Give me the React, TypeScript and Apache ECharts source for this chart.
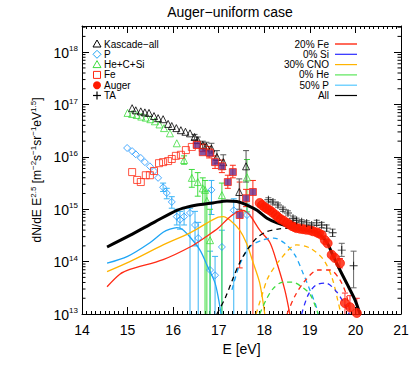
import React, { useEffect, useRef } from "react";
import * as echarts from "echarts";

const FONT = "'Liberation Sans', Arial, sans-serif";
const YMIN = 1e13;
const YMAX = 3.16e18;

// x = log10(E/eV), y = log10(flux)
const kasE = [15.1, 15.18, 15.29, 15.38, 15.47, 15.58, 15.67, 15.78, 15.89, 15.97, 16.07, 16.17, 16.27, 16.37, 16.47, 16.54, 16.65, 16.73, 16.84, 16.96, 17.1, 17.45, 17.6];
const kasF = [16.93, 16.89, 16.87, 16.85, 16.84, 16.78, 16.74, 16.72, 16.63, 16.59, 16.55, 16.51, 16.48, 16.45, 16.38, 16.32, 16.23, 16.2, 16.16, 16.0, 15.9, 15.33, 15.82];
const kasBars = [[16.47, 16.33, 16.43], [16.54, 16.26, 16.38], [16.65, 16.16, 16.3], [16.73, 16.12, 16.28], [16.84, 16.06, 16.26], [16.96, 15.88, 16.12], [17.1, 15.76, 16.04], [17.45, 15.0, 15.58], [17.6, 15.52, 16.12]];

const heE = [15.0, 15.1, 15.2, 15.3, 15.4, 15.5, 15.6, 15.7, 15.8, 15.93, 16.08, 16.24, 16.41, 16.54, 16.65, 16.7, 16.74, 16.81, 17.07, 17.62];
const heF = [16.84, 16.82, 16.8, 16.77, 16.75, 16.72, 16.68, 16.62, 16.55, 16.45, 16.26, 15.94, 15.6, 15.52, 15.4, 15.37, 15.16, 14.41, 15.27, 15.61];
const heBars = [[16.24, 15.86, 16.02], [16.41, 15.42, 15.76], [16.54, 15.25, 15.7], [16.65, 15.1, 15.6], [16.7, 13.0, 15.55], [16.74, 13.0, 15.35], [16.81, 13.0, 15.0], [17.07, 13.0, 15.5], [17.62, 14.95, 15.95]];

const pE = [14.99, 15.1, 15.18, 15.29, 15.38, 15.49, 15.58, 15.67, 15.78, 15.86, 15.97, 16.08, 16.15, 16.24, 16.37, 16.48, 16.55, 16.84, 16.81, 16.92, 17.07, 17.33, 17.62];
const pF = [16.17, 16.11, 16.05, 15.98, 15.9, 15.82, 15.73, 15.6, 15.42, 15.31, 15.14, 14.86, 14.8, 14.86, 14.93, 14.7, 14.45, 15.37, 13.84, 13.74, 14.28, 14.98, 14.89];
const pBars = [[15.78, 15.34, 15.5], [15.86, 15.2, 15.4], [15.97, 15.02, 15.24], [16.08, 14.7, 15.0], [16.15, 14.62, 14.96], [16.24, 14.7, 15.02], [16.37, 13.0, 15.02], [16.48, 14.3, 14.96], [16.55, 13.0, 14.75], [16.84, 14.9, 15.55], [16.81, 13.0, 14.2], [16.92, 13.0, 14.1], [17.07, 13.0, 14.6], [17.33, 13.0, 15.2], [17.62, 13.0, 15.1]];

const feE = [15.1, 15.21, 15.29, 15.4, 15.49, 15.58, 15.69, 15.78, 15.89, 15.97, 16.06, 16.17, 16.28, 16.41, 16.52, 16.65, 16.79];
const feF = [15.71, 15.56, 15.52, 15.65, 15.65, 15.73, 15.88, 15.9, 15.92, 15.96, 16.02, 16.04, 16.13, 16.19, 16.23, 16.17, 16.09];
const feBars = [[16.65, 16.1, 16.25], [16.79, 15.98, 16.2]];

const fe2E = [16.52, 16.65, 16.81, 16.92, 17.07, 17.2, 17.31, 17.46, 17.6, 17.75];
const fe2F = [16.23, 16.09, 16.07, 15.9, 15.82, 15.52, 15.71, 14.89, 15.21, 15.33];
const fe2Bars = [[16.92, 15.78, 16.02], [17.07, 15.7, 15.94], [17.2, 15.4, 15.65], [17.31, 15.6, 15.84], [17.46, 13.88, 15.52], [17.6, 15.05, 15.38], [17.75, 13.0, 15.55]];

const augerE = [17.9, 17.95, 18.01, 18.06, 18.12, 18.18, 18.25, 18.3, 18.36, 18.43, 18.5, 18.55, 18.61, 18.66, 18.71, 18.78, 18.85, 18.92, 19.0, 19.07, 19.15, 19.2, 19.26, 19.33, 19.39, 19.48, 19.55, 19.66, 19.77, 19.88, 20.03];
const augerF = [15.12, 15.08, 15.04, 15.01, 14.98, 14.94, 14.89, 14.85, 14.81, 14.78, 14.74, 14.71, 14.68, 14.66, 14.64, 14.63, 14.62, 14.61, 14.6, 14.58, 14.56, 14.54, 14.51, 14.41, 14.35, 14.13, 14.07, 13.97, 13.21, 13.13, 13.02];
const augerBars = [[19.66, 13.88, 14.06], [19.77, 13.0, 13.4], [19.88, 13.0, 13.35], [20.03, 13.0, 13.3]];

const taE = [18.09, 18.19, 18.3, 18.41, 18.52, 18.63, 18.71, 18.82, 18.93, 19.04, 19.15, 19.26, 19.37, 19.5, 19.7, 19.96];
const taF = [15.18, 15.14, 15.08, 15.0, 14.93, 14.83, 14.79, 14.76, 14.74, 14.7, 14.74, 14.7, 14.64, 14.55, 14.22, 13.92];
const taBars = [[18.09, 15.14, 15.22], [18.19, 15.1, 15.18], [18.3, 15.04, 15.12], [18.41, 14.96, 15.04], [18.52, 14.89, 14.97], [18.63, 14.79, 14.87], [18.71, 14.75, 14.83], [18.82, 14.72, 14.8], [18.93, 14.7, 14.78], [19.04, 14.66, 14.74], [19.15, 14.69, 14.79], [19.26, 14.65, 14.75], [19.37, 14.58, 14.7], [19.5, 14.48, 14.62], [19.7, 14.1, 14.35], [19.96, 13.5, 14.2]];

// model curves
const allE = [14.55, 15.05, 15.6, 16.08, 16.3, 16.52, 16.87, 17.18, 17.4, 17.62, 17.84, 18.06, 18.28, 18.5, 18.71, 18.93, 19.15, 19.37, 19.5, 19.66, 19.83, 19.99, 20.1];
const allF = [14.28, 14.5, 14.76, 14.98, 15.04, 15.08, 15.12, 15.16, 15.15, 15.08, 14.98, 14.83, 14.74, 14.68, 14.64, 14.6, 14.56, 14.37, 14.13, 13.84, 13.55, 13.27, 13.0];
const pLineE = [14.55, 15.0, 15.49, 15.78, 15.93, 16.08, 16.2, 16.37, 16.59, 16.76, 16.92, 17.0, 17.05];
const pLineF = [13.97, 14.1, 14.36, 14.56, 14.62, 14.65, 14.62, 14.47, 14.22, 13.9, 13.59, 13.27, 13.0];
const cnoLineE = [14.55, 15.05, 15.78, 16.37, 16.73, 16.99, 17.1, 17.25, 17.46, 17.61, 17.76, 17.9, 18.01];
const cnoLineF = [13.81, 14.0, 14.32, 14.55, 14.73, 14.85, 14.86, 14.79, 14.6, 14.35, 13.97, 13.59, 13.0];
const feLineE = [14.55, 14.83, 15.05, 15.78, 16.37, 16.73, 16.99, 17.2, 17.4, 17.53, 17.68, 17.9, 18.12, 18.28, 18.45, 18.56];
const feLineF = [13.52, 13.76, 13.85, 14.04, 14.28, 14.48, 14.64, 14.82, 14.95, 14.98, 14.89, 14.6, 14.37, 13.97, 13.46, 13.0];
const allDE = [16.96, 17.14, 17.3, 17.46, 17.62, 17.83, 18.05, 18.3, 18.55, 18.75];
const allDF = [13.0, 13.3, 13.65, 13.98, 14.22, 14.45, 14.57, 14.62, 14.64, 14.64];
const pDE = [17.29, 17.46, 17.68, 17.95, 18.21, 18.45, 18.67, 18.85, 19.0, 19.13, 19.18];
const pDF = [13.46, 13.94, 14.28, 14.41, 14.45, 14.35, 14.13, 13.78, 13.46, 13.17, 13.0];
const cnoDE = [17.82, 17.95, 18.08, 18.34, 18.71, 19.0, 19.29, 19.48, 19.61, 19.68];
const cnoDF = [13.0, 13.36, 13.69, 14.03, 14.32, 14.26, 14.05, 13.71, 13.27, 13.0];
const heDE = [17.9, 18.04, 18.19, 18.41, 18.61, 18.82, 19.0, 19.13, 19.18];
const heDF = [13.0, 13.27, 13.48, 13.61, 13.61, 13.52, 13.38, 13.13, 13.0];
const feDE = [18.5, 18.67, 18.89, 19.18, 19.44, 19.66, 19.81, 19.88];
const feDF = [13.0, 13.34, 13.63, 13.84, 13.84, 13.65, 13.34, 13.0];
const siDE = [18.82, 18.96, 19.13, 19.35, 19.59, 19.77, 19.86];
const siDF = [13.0, 13.36, 13.55, 13.59, 13.42, 13.17, 13.0];

const xTicks = [14, 15, 16, 17, 18, 19, 20, 21];
const yTickExps = [13, 14, 15, 16, 17, 18];

const leftLegend = ["Kascade−all", "P", "He+C+Si", "Fe", "Auger", "TA"];
const rightLegend = ["20% Fe", "0% Si", "30% CNO", "0% He", "50% P", "All"];

const C = {
  p: "#1ea5f5",
  cno: "#ffb400",
  fe: "#ff2a14",
  he: "#3ddc3d",
  si: "#2a2aff",
  purple: "#6b2a8a",
};

const pts = (e: number[], f: number[]) => e.map((x, i) => [x, Math.pow(10, f[i])]);

const PLUS = "path://M-0.12,-1H0.12V-0.12H1V0.12H0.12V1H-0.12V0.12H-1V-0.12H-0.12Z";

function errSeries(bars: number[][], color: string) {
  return {
    type: "custom",
    silent: true,
    z: 2,
    encode: { x: 0, y: [1, 2] },
    data: bars.map(([e, lo, hi]) => [e, Math.pow(10, lo), Math.pow(10, hi)]),
    renderItem: (_p: any, api: any) => {
      const e = api.value(0);
      const lo = api.value(1);
      const hi = api.value(2);
      const top = api.coord([e, hi]);
      const bot = api.coord([e, Math.max(lo, YMIN)]);
      const style = { stroke: color, lineWidth: 1 };
      const ch: any[] = [
        { type: "line", shape: { x1: top[0], y1: top[1], x2: bot[0], y2: bot[1] }, style },
        { type: "line", shape: { x1: top[0] - 3, y1: top[1], x2: top[0] + 3, y2: top[1] }, style },
      ];
      if (lo > YMIN * 1.01) ch.push({ type: "line", shape: { x1: bot[0] - 3, y1: bot[1], x2: bot[0] + 3, y2: bot[1] }, style });
      return { type: "group", children: ch };
    },
  };
}

function lineSeries(e: number[], f: number[], color: string, width: number, dashed: boolean) {
  return {
    type: "line",
    data: pts(e, f),
    showSymbol: false,
    smooth: 0.3,
    silent: true,
    clip: true,
    z: 3,
    lineStyle: { color, width, type: dashed ? [5, 4] : "solid" },
  };
}

function scatter(e: number[], f: number[], symbol: string, size: number, fill: string, border: string, z = 4) {
  return {
    type: "scatter",
    data: pts(e, f),
    symbol,
    symbolSize: size,
    silent: true,
    z,
    itemStyle: { color: fill, borderColor: border, borderWidth: 1 },
  };
}

export default function App() {
  const ref = useRef<HTMLDivElement>(null);
  useEffect(() => {
    if (!ref.current) return;
    const chart = echarts.init(ref.current, null, { renderer: "svg" });

    const minorTicks: number[] = [];
    for (let d = 13; d <= 18; d++) for (let m = 2; m <= 9; m++) if (m * Math.pow(10, d) < YMAX) minorTicks.push(m * Math.pow(10, d));

    const legendG: any[] = [];
    const rowY = [44, 54.3, 64.6, 74.9, 85.2, 95.5];
    const sx = 97;
    const tri = (y: number, c: string) => ({ type: "polygon", shape: { points: [[sx, y - 4], [sx + 4, y + 3], [sx - 4, y + 3]] }, style: { fill: "none", stroke: c, lineWidth: 1 } });
    legendG.push(tri(rowY[0], "#000"));
    legendG.push({ type: "polygon", shape: { points: [[sx, rowY[1] - 4], [sx + 4, rowY[1]], [sx, rowY[1] + 4], [sx - 4, rowY[1]]] }, style: { fill: "none", stroke: C.p, lineWidth: 1 } });
    legendG.push(tri(rowY[2], C.he));
    legendG.push({ type: "rect", shape: { x: sx - 3.5, y: rowY[3] - 3.5, width: 7, height: 7 }, style: { fill: "none", stroke: C.fe, lineWidth: 1 } });
    legendG.push({ type: "circle", shape: { cx: sx, cy: rowY[4], r: 4 }, style: { fill: "#ff1a00" } });
    legendG.push({ type: "line", shape: { x1: sx - 4, y1: rowY[5], x2: sx + 4, y2: rowY[5] }, style: { stroke: "#000", lineWidth: 1.2 } });
    legendG.push({ type: "line", shape: { x1: sx, y1: rowY[5] - 4, x2: sx, y2: rowY[5] + 4 }, style: { stroke: "#000", lineWidth: 1.2 } });
    leftLegend.forEach((t, i) =>
      legendG.push({ type: "text", x: 104, y: rowY[i], style: { text: t, fill: "#000", font: `10px ${FONT}`, textAlign: "left", textVerticalAlign: "middle" } })
    );
    const rColors = ["#ff6a5a", C.si, C.cno, "#5ae65a", "#55c8ff", "#000"];
    rightLegend.forEach((t, i) => {
      legendG.push({ type: "text", x: 329, y: rowY[i], style: { text: t, fill: "#000", font: `10px ${FONT}`, textAlign: "right", textVerticalAlign: "middle" } });
      legendG.push({ type: "line", shape: { x1: 335, y1: rowY[i], x2: 357, y2: rowY[i] }, style: { stroke: rColors[i], lineWidth: i === 0 ? 2 : 1.2 } });
    });
    legendG.push({ type: "text", x: 230, y: 12, style: { text: "Auger−uniform case", fill: "#000", font: `14px ${FONT}`, textAlign: "center", textVerticalAlign: "middle" } });

    const axisCommon = {
      min: 14,
      max: 21,
      interval: 1,
      type: "value" as const,
      axisLine: { show: true, onZero: false, lineStyle: { color: "#000", width: 1 } },
      axisTick: { show: true, inside: true, length: 7, lineStyle: { color: "#000" } },
      minorTick: { show: true, splitNumber: 10, length: 3, lineStyle: { color: "#000" } },
      splitLine: { show: false },
    };
    const yCommon = {
      type: "log" as const,
      logBase: 10,
      min: YMIN,
      max: YMAX,
      axisLine: { show: true, lineStyle: { color: "#000", width: 1 } },
      axisTick: { show: true, inside: true, length: 7, lineStyle: { color: "#000" } },
      splitLine: { show: false },
    };

    chart.setOption({
      animation: false,
      textStyle: { fontFamily: FONT },
      grid: { left: 82, right: 14, top: 26, bottom: 53, containLabel: false },
      xAxis: [
        {
          ...axisCommon,
          position: "bottom",
          name: "E [eV]",
          nameLocation: "middle",
          nameGap: 21,
          nameTextStyle: { fontSize: 14, color: "#000", fontFamily: FONT },
          axisLabel: { show: true, fontSize: 14, color: "#000", margin: 9, fontFamily: FONT, formatter: (v: number) => (xTicks.includes(v) ? String(v) : "") },
        },
        { ...axisCommon, position: "top", axisLabel: { show: false } },
      ],
      yAxis: [
        {
          ...yCommon,
          position: "left",
          name: "dN/dE E{s|2.5} [m{s|−2}s{s|−1}sr{s|−1}eV{s|1.5}]",
          nameLocation: "middle",
          nameRotate: 90,
          nameGap: 38,
          nameTextStyle: {
            fontSize: 12,
            color: "#000",
            fontFamily: FONT,
            rich: { s: { fontSize: 8, fontFamily: FONT, color: "#000", verticalAlign: "bottom", padding: [0, 0, 6, 0] } },
          },
          axisLabel: {
            show: true,
            margin: 4,
            color: "#000",
            showMaxLabel: false,
            formatter: (v: number) => {
              const ex = Math.log10(v);
              const r = Math.round(ex);
              return Math.abs(ex - r) < 0.01 && yTickExps.includes(r) ? `{b|10}{s|${r}}` : "";
            },
            rich: {
              b: { fontSize: 14, fontFamily: FONT, color: "#000", verticalAlign: "bottom" },
              s: { fontSize: 8, fontFamily: FONT, color: "#000", verticalAlign: "bottom", padding: [0, 0, 7, 0] },
            },
          },
        },
        { ...yCommon, position: "right", axisLabel: { show: false } },
      ],
      graphic: legendG,
      series: [
        {
          type: "custom",
          silent: true,
          z: 1,
          data: minorTicks.map((v) => [14, v]),
          renderItem: (_p: any, api: any) => {
            const v = api.value(1);
            const l = api.coord([14, v]);
            const r = api.coord([21, v]);
            const st = { stroke: "#000", lineWidth: 1 };
            return {
              type: "group",
              children: [
                { type: "line", shape: { x1: l[0], y1: l[1], x2: l[0] + 3.5, y2: l[1] }, style: st },
                { type: "line", shape: { x1: r[0], y1: r[1], x2: r[0] - 3.5, y2: r[1] }, style: st },
              ],
            };
          },
        },
        lineSeries(pLineE, pLineF, C.p, 1.3, false),
        lineSeries(cnoLineE, cnoLineF, C.cno, 1.3, false),
        lineSeries(feLineE, feLineF, C.fe, 1.3, false),
        lineSeries(pDE, pDF, C.p, 1.3, true),
        lineSeries(cnoDE, cnoDF, C.cno, 1.3, true),
        lineSeries(heDE, heDF, C.he, 1.3, true),
        lineSeries(feDE, feDF, C.fe, 1.3, true),
        lineSeries(siDE, siDF, C.si, 1.3, true),
        lineSeries(allDE, allDF, "#000", 1.3, true),
        errSeries(pBars, "#39b4f5"),
        errSeries(heBars, C.he),
        errSeries(feBars, C.fe),
        errSeries(fe2Bars, C.fe),
        errSeries(kasBars, "#555"),
        errSeries(augerBars, "#ff3030"),
        errSeries(taBars, "#666"),
        scatter(pE, pF, "diamond", 7, "rgba(0,0,0,0)", "#1e96ff"),
        scatter(heE, heF, "triangle", 7, "rgba(0,0,0,0)", C.he),
        scatter(feE, feF, "rect", 7, "rgba(0,0,0,0)", C.fe),
        scatter(kasE, kasF, "triangle", 7, "rgba(0,0,0,0)", "#000"),
        scatter(fe2E, fe2F, "rect", 7, C.purple, C.fe),
        { ...lineSeries(allE, allF, "#000", 3, false), z: 5 },
        scatter(augerE, augerF, "circle", 9, "#ff1a00", "#ff1a00", 6),
        { ...scatter(taE, taF, PLUS, 8, "#000", "#000", 7), itemStyle: { color: "#000" } },
      ],
    });
    return () => chart.dispose();
  }, []);
  return <div ref={ref} style={{ position: "fixed", left: 0, top: 0, width: 415, height: 367, background: "#fff" }} />;
}
